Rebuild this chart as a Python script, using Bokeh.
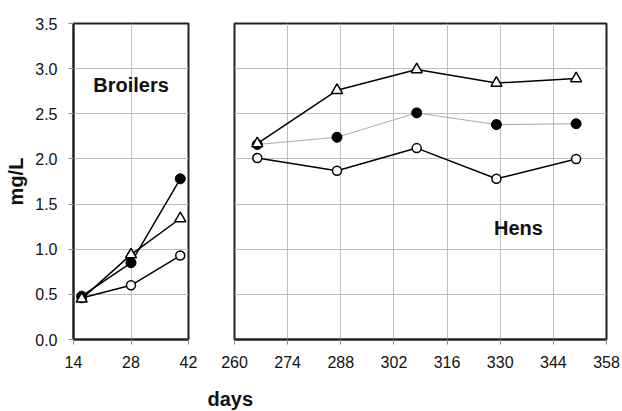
from bokeh.plotting import figure
from bokeh.layouts import row
from bokeh.models import FixedTicker, NumeralTickFormatter, Label, Range1d, Title
from bokeh.embed import file_html
from bokeh.resources import INLINE

# ---- data ----
broiler_days = [16, 28, 40]
broiler_filled = [0.48, 0.85, 1.78]
broiler_triangle = [0.45, 0.94, 1.34]
broiler_open = [0.46, 0.60, 0.93]

hen_days = [266, 287, 308, 329, 350]
hen_filled = [2.16, 2.24, 2.51, 2.38, 2.39]
hen_triangle = [2.17, 2.76, 2.99, 2.84, 2.89]
hen_open = [2.01, 1.87, 2.12, 1.78, 2.00]

y_ticks = [0.0, 0.5, 1.0, 1.5, 2.0, 2.5, 3.0, 3.5]
broiler_xticks = [14, 28, 42]
hen_xticks = [260, 274, 288, 302, 316, 330, 344, 358]

FONT = "Liberation Sans"
GRID = "#c4bcb8"
FRAME = "#222222"


def style(p, xticks):
    p.outline_line_color = FRAME
    p.outline_line_width = 2
    p.background_fill_color = "white"
    p.border_fill_color = "white"
    p.xgrid.ticker = FixedTicker(ticks=xticks)
    p.ygrid.ticker = FixedTicker(ticks=y_ticks)
    p.xgrid.grid_line_color = GRID
    p.ygrid.grid_line_color = GRID
    p.xgrid.grid_line_width = 1
    p.ygrid.grid_line_width = 1
    ax = p.xaxis[0]
    ax.ticker = FixedTicker(ticks=xticks)
    ax.major_label_text_font = FONT
    ax.major_label_text_font_size = "16px"
    ax.major_label_text_color = "#111111"
    ax.major_tick_in = 0
    ax.major_tick_out = 5
    ax.minor_tick_line_color = None
    ax.major_tick_line_color = "#888888"
    ax.axis_line_color = FRAME
    ax.axis_line_width = 2
    ax.major_label_standoff = 11


# ---- Broilers panel ----
p1 = figure(width=200, height=411, output_backend="svg", toolbar_location=None,
            x_range=Range1d(14, 42), y_range=Range1d(0, 3.5),
            min_border_left=73, min_border_right=12, min_border_top=23, min_border_bottom=71)
style(p1, broiler_xticks)
ya = p1.yaxis[0]
ya.ticker = FixedTicker(ticks=y_ticks)
ya.formatter = NumeralTickFormatter(format="0.0")
ya.major_label_text_font = FONT
ya.major_label_text_font_size = "16px"
ya.major_label_text_color = "#111111"
ya.major_tick_in = 0
ya.major_tick_out = 5
ya.major_tick_line_color = "#888888"
ya.minor_tick_line_color = None
ya.axis_line_color = FRAME
ya.axis_line_width = 2
ya.major_label_standoff = 11
ya.axis_label = "mg/L"
ya.axis_label_text_font = FONT
ya.axis_label_text_font_style = "bold"
ya.axis_label_text_font_size = "20px"
ya.axis_label_text_color = "#111111"
ya.axis_label_standoff = 5

p1.line(broiler_days, broiler_filled, line_color="black", line_width=1.5)
p1.line(broiler_days, broiler_triangle, line_color="black", line_width=1.5)
p1.line(broiler_days, broiler_open, line_color="black", line_width=1.5)
p1.scatter(broiler_days, broiler_open, marker="circle", size=9, fill_color="white",
           line_color="black", line_width=1.5)
p1.scatter(broiler_days, broiler_filled, marker="circle", size=10, fill_color="black",
           line_color="black", line_width=1)
p1.scatter(broiler_days, broiler_triangle, marker="triangle", size=11, fill_color="white",
           line_color="black", line_width=1.5)

p1.add_layout(Label(x=28, y=2.82, text="Broilers", text_align="center",
                    text_baseline="alphabetic", text_font=FONT, text_font_style="bold",
                    text_font_size="20px", text_color="#111111"))

# ---- Hens panel ----
p2 = figure(width=422, height=411, output_backend="svg", toolbar_location=None,
            x_range=Range1d(260, 358), y_range=Range1d(0, 3.5),
            min_border_left=34, min_border_right=16, min_border_top=23, min_border_bottom=71)
style(p2, hen_xticks)
p2.yaxis.visible = False

p2.line(hen_days, hen_filled, line_color="#b0a8a4", line_width=1)
p2.line(hen_days, hen_triangle, line_color="black", line_width=1.5)
p2.line(hen_days, hen_open, line_color="black", line_width=1.5)
p2.scatter(hen_days, hen_filled, marker="circle", size=10, fill_color="black",
           line_color="black", line_width=1)
p2.scatter(hen_days, hen_open, marker="circle", size=9, fill_color="white",
           line_color="black", line_width=1.5)
p2.scatter(hen_days, hen_triangle, marker="triangle", size=11, fill_color="white",
           line_color="black", line_width=1.5)

p2.add_layout(Label(x=334.8, y=1.24, text="Hens", text_align="center",
                    text_baseline="alphabetic", text_font=FONT, text_font_style="bold",
                    text_font_size="20px", text_color="#111111"))
# spacer between tick labels and the "days" caption
p2.add_layout(Title(text=" ", standoff=10, text_font_size="1px"), "below")
p2.add_layout(Title(text="days", align="left", offset=-27, standoff=4,
                    text_font=FONT, text_font_style="bold", text_font_size="20px",
                    text_color="#111111"), "below")

layout = row(p1, p2, spacing=0)
open("out.html", "w").write(file_html(layout, INLINE))
